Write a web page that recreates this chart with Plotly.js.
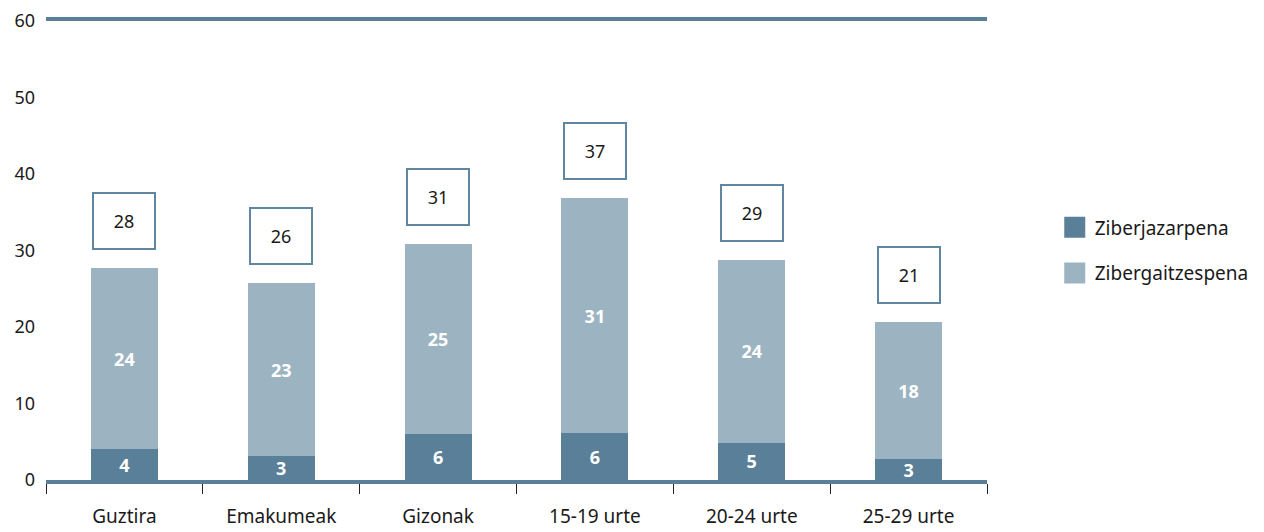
<!DOCTYPE html>
<html>
<head>
<meta charset="utf-8">
<script src="https://cdn.plot.ly/plotly-3.0.1.min.js"></script>
<style>html,body{margin:0;padding:0;background:#fff;}#chart{width:1264px;height:532px;}</style>
</head>
<body>
<div id="chart"></div>
<script>
const categories = ["Guztira", "Emakumeak", "Gizonak", "15-19 urte", "20-24 urte", "25-29 urte"];
const ziberjazarpena = [4.0, 3.1, 6.0, 6.1, 4.9, 2.7];
const zibergaitzespena = [23.7, 22.6, 24.8, 30.7, 23.8, 17.9];
const jazLabels = ["4", "3", "6", "6", "5", "3"];
const gaitzLabels = ["24", "23", "25", "31", "24", "18"];
const totalLabels = ["28", "26", "31", "37", "29", "21"];
const yTicks = [0, 10, 20, 30, 40, 50, 60];

const DARK = "#5a7f99";
const LIGHT = "#9cb3c1";
const FONT = "Noto Sans, Open Sans, sans-serif";

const totals = ziberjazarpena.map((v, i) => v + zibergaitzespena[i]);

const traces = [
  {
    type: "bar", x: categories, y: ziberjazarpena, name: "Ziberjazarpena",
    marker: {color: DARK}, text: jazLabels, textposition: "inside", textangle: 0,
    insidetextanchor: "middle", constraintext: "none",
    textfont: {color: "#ffffff", size: 18, family: FONT, weight: "bold"},
    showlegend: false, hoverinfo: "skip"
  },
  {
    type: "bar", x: categories, y: zibergaitzespena, name: "Zibergaitzespena",
    marker: {color: LIGHT}, text: gaitzLabels, textposition: "inside", textangle: 0,
    insidetextanchor: "middle", constraintext: "none",
    textfont: {color: "#ffffff", size: 18, family: FONT, weight: "bold"},
    showlegend: false, hoverinfo: "skip"
  },
  {
    type: "scatter", mode: "markers", x: [null], y: [null], name: "Ziberjazarpena",
    marker: {symbol: "square", size: 16, color: DARK, line: {color: DARK, width: 5}},
    legendgroup: "a", showlegend: true
  },
  {
    type: "scatter", mode: "markers", x: [null], y: [null], name: "Zibergaitzespena",
    marker: {symbol: "square", size: 16, color: LIGHT, line: {color: LIGHT, width: 5}},
    legendgroup: "b", showlegend: true
  }
];

const annotations = categories.map((c, i) => ({
  x: c, y: totals[i], xref: "x", yref: "y",
  text: totalLabels[i], showarrow: false,
  yanchor: "bottom", yshift: 18,
  width: 60, height: 54, borderpad: 0,
  bordercolor: "#5f87a2", borderwidth: 2, bgcolor: "#ffffff",
  font: {size: 18, color: "#1a1a1a", family: FONT}
}));

const layout = {
  width: 1264, height: 532,
  margin: {l: 46, r: 277, t: 21, b: 52, autoexpand: false},
  paper_bgcolor: "#ffffff", plot_bgcolor: "#ffffff",
  barmode: "stack", bargap: 0.573,
  font: {family: FONT, size: 18, color: "#1a1a1a"},
  xaxis: {
    type: "category", showgrid: false, zeroline: false,
    showline: true, linecolor: DARK, linewidth: 4, mirror: true,
    ticks: "outside", tickson: "boundaries", ticklen: 10, tickcolor: "#222222", tickwidth: 1,
    ticklabelstandoff: 16,
    tickfont: {size: 19, color: "#1a1a1a", family: FONT}
  },
  yaxis: {
    range: [0, 60], tickvals: yTicks, showgrid: false, zeroline: false,
    showline: false, ticks: "", ticklabelstandoff: 10,
    tickfont: {size: 18, color: "#1a1a1a", family: FONT}
  },
  legend: {
    x: 1.072, y: 0.50, xanchor: "left", yanchor: "middle",
    tracegroupgap: 18, font: {size: 19, color: "#1a1a1a", family: FONT},
    bgcolor: "rgba(0,0,0,0)"
  },
  annotations: annotations,
  showlegend: true
};

Plotly.newPlot("chart", traces, layout, {displayModeBar: false, staticPlot: true});
</script>
</body>
</html>
